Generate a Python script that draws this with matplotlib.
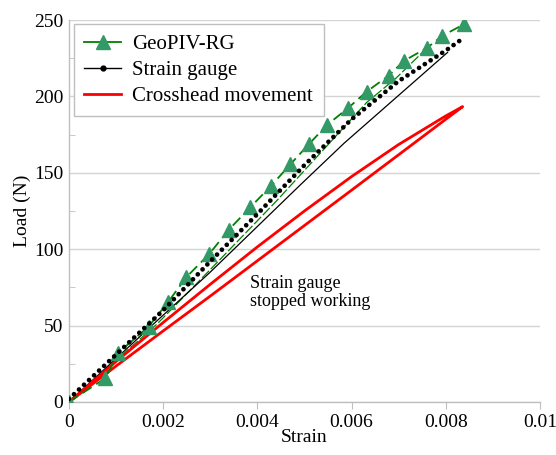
import numpy as np
import matplotlib
matplotlib.use("Agg")
import matplotlib.pyplot as plt
from matplotlib.lines import Line2D

plt.rcParams["font.family"] = ["Liberation Serif", "DejaVu Serif"]

# GeoPIV-RG (loading, with markers)
geo_x = [0.0, 0.00077, 0.00105, 0.00169, 0.00211, 0.00249, 0.00298, 0.00339,
         0.00385, 0.00429, 0.0047, 0.00509, 0.00548, 0.00592, 0.00632,
         0.00679, 0.00711, 0.00761, 0.00793, 0.00838]
geo_y = [0.0, 15.5, 32.3, 49.3, 65.6, 81.6, 96.9, 112.6, 127.4, 141.4, 155.5,
         168.6, 181.3, 192.2, 203.1, 213.6, 223.2, 231.9, 239.7, 247.1]
# GeoPIV-RG (unloading)
geo_un_x = [0.00761, 0.00694, 0.00632, 0.00442, 0.00298, 0.00187, 0.0]
geo_un_y = [231.9, 211.8, 196.0, 132.0, 86.0, 51.0, 0.0]

# Strain gauge (loading)
sg_x = [0.0, 0.001, 0.002, 0.003, 0.004, 0.005, 0.006, 0.007, 0.008, 0.00835]
sg_y = [2.0, 31.0, 60.0, 92.0, 123.0, 155.0, 185.0, 210.0, 230.0, 237.6]
# Strain gauge (unloading)
sg_un_x = [0.00804, 0.00584, 0.00491, 0.00298, 0.0019, 0.0]
sg_un_y = [228.8, 169.3, 142.0, 84.4, 54.0, 0.0]

# Crosshead movement (loading then unloading)
ch_x = [0.0, 0.001, 0.002, 0.003, 0.004, 0.005, 0.006, 0.007, 0.008, 0.00836,
        0.008, 0.007, 0.006, 0.005, 0.004, 0.003, 0.002, 0.001, 0.0]
ch_y = [0.0, 26.5, 52.0, 77.0, 101.5, 125.0, 147.5, 168.5, 187.2, 193.3,
        185.0, 161.8, 138.6, 115.5, 92.4, 69.3, 46.5, 23.5, 0.0]

xticks = [0, 0.002, 0.004, 0.006, 0.008, 0.01]
xtick_labels = ["0", "0.002", "0.004", "0.006", "0.008", "0.01"]
yticks = [0, 50, 100, 150, 200, 250]

fig = plt.figure(figsize=(5.56, 4.55), dpi=100)
ax = fig.add_axes([0.124, 0.1165, 0.847, 0.8395])

green = "#008000"
tri = "#339966"

ax.plot(geo_x, geo_y, color=green, lw=1.3, linestyle=(0, (6, 3)),
        marker="^", ms=10, mfc=tri, mec=tri, zorder=4)
ax.plot(geo_un_x, geo_un_y, color=green, lw=0.9, linestyle=(0, (8, 2)), zorder=3)

ax.plot(sg_un_x, sg_un_y, color="black", lw=0.9, zorder=3)
ax.plot(sg_x, sg_y, color="black", lw=3.4, linestyle=(0, (0.01, 1.45)),
        dash_capstyle="round", zorder=5)

ax.plot(ch_x, ch_y, color="#ff0000", lw=2, zorder=3)

ax.text(0.00385, 83, "Strain gauge\nstopped working", fontsize=13,
        va="top", ha="left", linespacing=1.1)

ax.set_xlim(0, 0.01)
ax.set_ylim(0, 250)
ax.set_xticks(xticks)
ax.set_xticklabels(xtick_labels)
ax.set_yticks(yticks)
ax.set_yticks(np.arange(25, 250, 50), minor=True)

ax.grid(axis="y", which="major", color="#d4d4d4", lw=1)
ax.set_axisbelow(True)
for s in ["top", "right"]:
    ax.spines[s].set_visible(False)
for s in ["left", "bottom"]:
    ax.spines[s].set_color("#bfbfbf")
    ax.spines[s].set_linewidth(1)

ax.tick_params(axis="x", direction="out", length=5, color="#bfbfbf",
               labelsize=14, pad=4)
ax.tick_params(axis="y", which="major", length=0, labelsize=14, pad=4)
ax.tick_params(axis="y", which="minor", direction="in", length=4,
               color="#bfbfbf")

ax.set_xlabel("Strain", fontsize=14, labelpad=-2)
ax.set_ylabel("Load (N)", fontsize=14, labelpad=2)

handles = [
    Line2D([], [], color=green, lw=1.3, marker="^", ms=10, mfc=tri, mec=tri),
    Line2D([], [], color="black", lw=1, marker="o", ms=3.5),
    Line2D([], [], color="#ff0000", lw=2),
]
labels = ["GeoPIV-RG", "Strain gauge", "Crosshead movement"]
leg = ax.legend(handles, labels, loc="upper left", fontsize=15,
                bbox_to_anchor=(0.002, 1.0), fancybox=False,
                edgecolor="#bfbfbf", framealpha=1, labelspacing=0.3,
                handlelength=1.75, handletextpad=0.55, borderpad=0.5,
                borderaxespad=0.2)
leg.get_frame().set_linewidth(1)

plt.savefig("out.png", dpi=100)
